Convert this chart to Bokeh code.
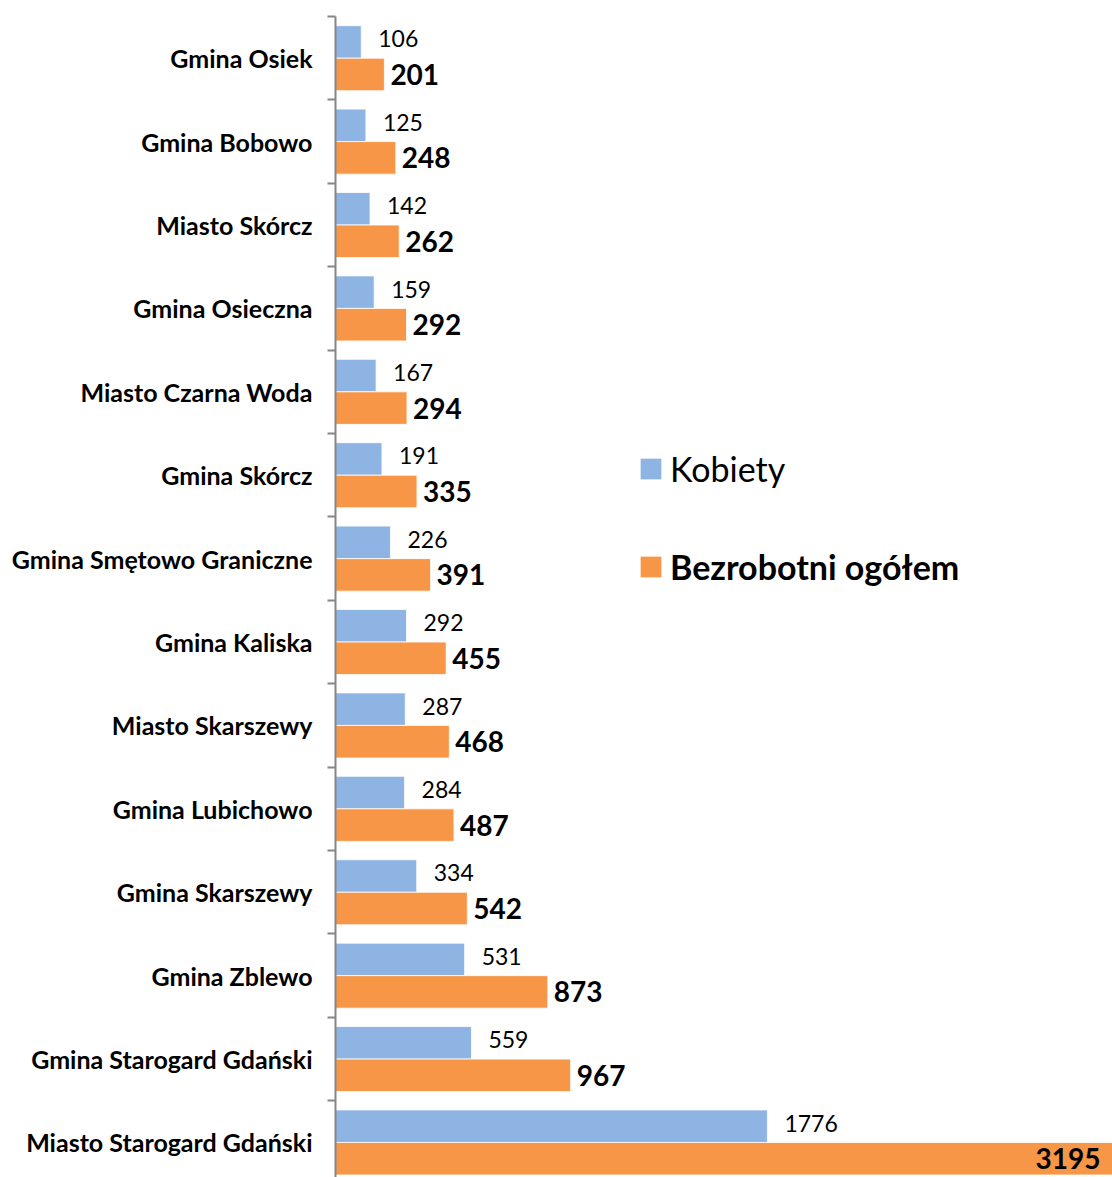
from bokeh.plotting import figure
from bokeh.models import ColumnDataSource, FixedTicker, Range1d, Legend, LegendItem
from bokeh.transform import dodge
from bokeh.core.properties import value
from bokeh.embed import file_html
from bokeh.resources import INLINE

categories = [
    "Gmina Osiek", "Gmina Bobowo", "Miasto Skórcz", "Gmina Osieczna",
    "Miasto Czarna Woda", "Gmina Skórcz", "Gmina Smętowo Graniczne",
    "Gmina Kaliska", "Miasto Skarszewy", "Gmina Lubichowo",
    "Gmina Skarszewy", "Gmina Zblewo", "Gmina Starogard Gdański",
    "Miasto Starogard Gdański",
]
kobiety = [106, 125, 142, 159, 167, 191, 226, 292, 287, 284, 334, 531, 559, 1776]
ogolem = [201, 248, 262, 292, 294, 335, 391, 455, 468, 487, 542, 873, 967, 3195]

BLUE = "#8EB4E3"
ORANGE = "#F79646"
AXIS = "#868686"
FONT = "Lato"

n = len(categories)
ypos = [n - 1 - i + 0.5 for i in range(n)]
vmax = max(ogolem)
inside = [v > 0.9 * vmax for v in ogolem]

src = ColumnDataSource(dict(
    y=ypos, cat=categories, k=kobiety, o=ogolem,
    k_txt=[str(v) for v in kobiety], o_txt=[str(v) for v in ogolem],
    o_align=["right" if f else "left" for f in inside],
    o_off=[-12 if f else 6 for f in inside],
))

p = figure(width=1112, height=1177,
           x_range=Range1d(0, vmax), y_range=Range1d(0.08, n),
           output_backend="svg", toolbar_location=None,
           min_border_left=335, min_border_right=0,
           min_border_top=16, min_border_bottom=0,
           x_axis_location=None)
p.outline_line_color = None
p.xgrid.visible = False
p.ygrid.visible = False

BH = 0.39
rb = p.hbar(y=dodge("y", BH / 2, range=p.y_range), right="k", left=0, height=BH,
            source=src, fill_color=BLUE, line_color="white", line_width=0.8)
ro = p.hbar(y=dodge("y", -BH / 2, range=p.y_range), right="o", left=0, height=BH,
            source=src, fill_color=ORANGE, line_color="white", line_width=0.8)

p.text(x="k", y=dodge("y", BH / 2, range=p.y_range), text="k_txt", source=src,
       x_offset=17, y_offset=-3, text_align="left", text_baseline="middle",
       text_font=value(FONT), text_font_size="23px", text_color="black")
p.text(x="o", y=dodge("y", -BH / 2, range=p.y_range), text="o_txt", source=src,
       x_offset="o_off", text_align="o_align", text_baseline="middle",
       text_font=value(FONT), text_font_size="28px", text_font_style="bold",
       text_color="black")

ax = p.yaxis[0]
ax.ticker = FixedTicker(ticks=ypos, minor_ticks=list(range(0, n + 1)))
ax.major_label_overrides = {y: c for y, c in zip(ypos, categories)}
ax.major_tick_out = 0
ax.major_tick_in = 0
ax.minor_tick_out = 8
ax.minor_tick_in = 0
ax.minor_tick_line_color = AXIS
ax.minor_tick_line_width = 2
ax.axis_line_color = AXIS
ax.axis_line_width = 2
ax.major_label_standoff = 15
ax.major_label_text_font = FONT
ax.major_label_text_font_size = "25px"
ax.major_label_text_font_style = "bold"
ax.major_label_text_color = "black"

common = dict(padding=0, margin=0, border_line_color=None, background_fill_alpha=0,
              glyph_width=27, glyph_height=27, label_standoff=6,
              label_text_font=FONT, label_text_font_size="34px",
              label_text_color="black", label_height=44)
leg1 = Legend(items=[LegendItem(label="Kobiety", renderers=[rb])],
              location=(302, 687), **common)
leg2 = Legend(items=[LegendItem(label="Bezrobotni ogółem", renderers=[ro])],
              location=(302, 589), label_text_font_style="bold", **common)
p.add_layout(leg1)
p.add_layout(leg2)

open("out.html", "w").write(file_html(p, INLINE))
